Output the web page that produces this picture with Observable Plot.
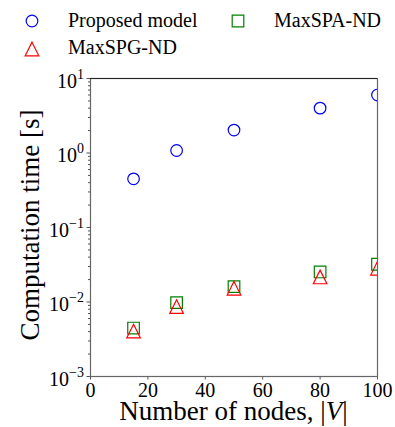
<!DOCTYPE html>
<html>
<head>
<meta charset="utf-8">
<script src="https://cdn.jsdelivr.net/npm/d3@7"></script>
<script src="https://cdn.jsdelivr.net/npm/@observablehq/plot@0.6"></script>
<style>
  html, body { margin: 0; padding: 0; background: #fff; }
  #wrap { width: 395px; font-family: "Liberation Serif", serif; }
  #legend { display: block; }
</style>
</head>
<body>
<div id="wrap">
  <svg id="legend" width="395" height="62"></svg>
  <div id="chart"></div>
</div>
<script>
// ---- data ----
const nodes = [15, 30, 50, 80, 100];
const proposedModel = [0.45, 1.08, 2.03, 4.0, 6.0];
const maxSPA = [0.00447, 0.0098, 0.0161, 0.0253, 0.0321];
const maxSPG = [0.00407, 0.00867, 0.0153, 0.0217, 0.0284];
const seriesNames = ["Proposed model", "MaxSPA-ND", "MaxSPG-ND"];
const xDomain = [0, 100];
const yDomain = [1e-3, 10];
const xTicks = [0, 20, 40, 60, 80, 100];
const yMajorTicks = [1e-3, 1e-2, 1e-1, 1, 10];
const yMinorTicks = [
  2e-3,3e-3,4e-3,5e-3,6e-3,7e-3,8e-3,9e-3,
  2e-2,3e-2,4e-2,5e-2,6e-2,7e-2,8e-2,9e-2,
  2e-1,3e-1,4e-1,5e-1,6e-1,7e-1,8e-1,9e-1,
  2,3,4,5,6,7,8,9
];
const xLabel = "Number of nodes, ";
const yLabel = "Computation time [s]";

const FONT = "Liberation Serif";

// matplotlib-like symbols
const mplSquare = { draw(ctx, size) { const r = Math.sqrt(size / Math.PI); ctx.rect(-r, -r, 2 * r, 2 * r); } };
const mplTriangle = { draw(ctx, size) { const r = Math.sqrt(size / Math.PI); ctx.moveTo(0, -r); ctx.lineTo(r, r); ctx.lineTo(-r, r); ctx.closePath(); } };

const rowsP = nodes.map((n, i) => ({ n, t: proposedModel[i] }));
const rowsA = nodes.map((n, i) => ({ n, t: maxSPA[i] }));
const rowsG = nodes.map((n, i) => ({ n, t: maxSPG[i] }));

const chart = Plot.plot({
  width: 395,
  height: 365,
  marginTop: 16,
  marginBottom: 51,
  marginLeft: 90,
  marginRight: 18,
  style: { fontFamily: FONT, fontSize: "20px", color: "#000", background: "#fff", overflow: "visible" },
  x: { domain: xDomain },
  y: { type: "log", domain: yDomain },
  marks: [
    Plot.axisX({ ticks: xTicks, tickSize: 3.5, tickPadding: 2.5, label: null, stroke: "#555", fontSize: 20, fontFamily: FONT, fontVariant: "normal" }),
    Plot.axisY({ ticks: yMinorTicks, tickSize: 2, tickFormat: () => "", label: null, stroke: "#555" }),
    Plot.axisY({ ticks: yMajorTicks, tickSize: 3.5, tickPadding: 3, tickFormat: d => "10^" + Math.round(Math.log10(d)), label: null, stroke: "#555", fontSize: 20, fontFamily: FONT, fontVariant: "normal" }),
    Plot.frame({ stroke: "#666", strokeWidth: 1.2 }),
    Plot.ruleY([yDomain[1]], { stroke: "#222", strokeWidth: 1.2 }),
    Plot.dot(rowsP, { x: "n", y: "t", symbol: "circle", r: 5.8, stroke: "blue", strokeWidth: 1.2, clip: true }),
    Plot.dot(rowsA, { x: "n", y: "t", symbol: mplSquare, r: 5.8, stroke: "green", strokeWidth: 1.2, clip: true }),
    Plot.dot(rowsG, { x: "n", y: "t", symbol: mplTriangle, r: 6.8, stroke: "red", strokeWidth: 1.2, clip: true })
  ]
});
document.getElementById("chart").appendChild(chart);

const svg = d3.select(chart);
// superscript y tick labels
svg.selectAll('g[aria-label="y-axis tick label"] text').each(function () {
  const s = this.textContent;
  if (!s.includes("^")) return;
  const [base, exp] = s.split("^");
  const t = d3.select(this);
  t.text(null).attr("y", 9).attr("font-family", FONT);
  t.append("tspan").text(base);
  t.append("tspan").attr("font-size", 14).attr("dy", -9).text(exp.replace("-", "\u2212"));
});

// axis titles
const xs = chart.scale("x").range;
const ys = chart.scale("y").range;
const xt = svg.append("text")
  .attr("x", (xs[0] + xs[1]) / 2)
  .attr("y", 358)
  .attr("text-anchor", "middle")
  .attr("font-size", 27)
  .attr("font-family", FONT)
  .attr("fill", "#000");
xt.append("tspan").text(xLabel + "|");
xt.append("tspan").attr("font-style", "italic").text("V");
xt.append("tspan").text("|");
svg.append("text")
  .attr("transform", `translate(39,${(ys[0] + ys[1]) / 2 - 2}) rotate(-90)`)
  .attr("text-anchor", "middle")
  .attr("font-size", 27)
  .attr("font-family", FONT)
  .attr("fill", "#000")
  .text(yLabel);

// legend
const lg = d3.select("#legend");
const items = [
  { name: seriesNames[0], color: "blue", sym: d3.symbolCircle, cx: 32, cy: 21, tx: 68, ty: 27 },
  { name: seriesNames[1], color: "green", sym: mplSquare, cx: 238, cy: 21, tx: 274, ty: 27 },
  { name: seriesNames[2], color: "red", sym: mplTriangle, cx: 32, cy: 49, tx: 68, ty: 54 }
];
items.forEach(it => {
  const r = it.sym === mplTriangle ? 6.8 : 5.8;
  lg.append("path")
    .attr("transform", `translate(${it.cx},${it.cy})`)
    .attr("d", d3.symbol(it.sym, Math.PI * r * r)())
    .attr("fill", "none").attr("stroke", it.color).attr("stroke-width", 1.2);
  lg.append("text").attr("x", it.tx).attr("y", it.ty)
    .attr("font-family", FONT).attr("font-size", 20).attr("fill", "#000")
    .text(it.name);
});
</script>
</body>
</html>
